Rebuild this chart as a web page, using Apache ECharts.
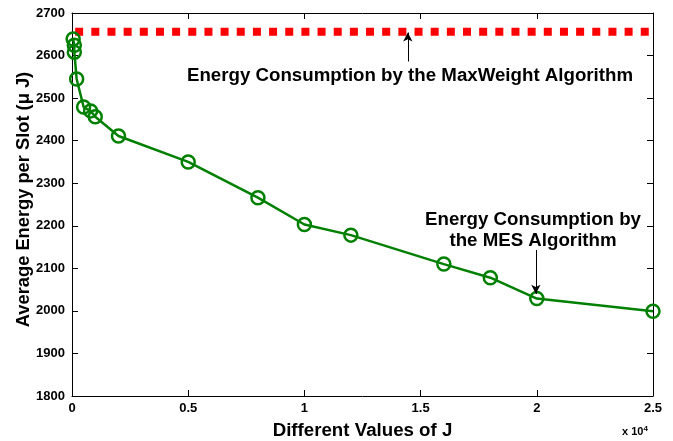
<!DOCTYPE html>
<html><head><meta charset="utf-8">
<script src="https://cdn.jsdelivr.net/npm/echarts@6/dist/echarts.min.js"></script>
<style>html,body{margin:0;padding:0;background:#fff}#c{width:673px;height:441px}</style>
</head><body><div id="c"></div>
<script>
const jValues = [50, 100, 100, 200, 500, 800, 1000, 2000, 5000, 8000, 10000, 12000, 16000, 18000, 20000, 25000];
const mesEnergy = [2639, 2624, 2608, 2545, 2479, 2470, 2456, 2411, 2350, 2266, 2203, 2178, 2110, 2078, 2029, 1999];
const maxWeightEnergy = 2656;
const maxWeightRange = [0, 25000];
const xTicks = ['0', '0.5', '1', '1.5', '2', '2.5'];
const arrow1 = [[14450, 2586], [14450, 2654]];
const arrow2 = [[19960, 2143], [19960, 2040]];

const F = 'Liberation Sans, Arial, Helvetica, sans-serif';
const chart = echarts.init(document.getElementById('c'), null, {renderer: 'canvas'});
const axisCommon = {
  axisLine: {show: true, onZero: false, lineStyle: {color: '#000', width: 1}},
  axisTick: {show: true, inside: true, length: 6, lineStyle: {color: '#000'}},
  splitLine: {show: false}
};
chart.setOption({
  animation: false,
  grid: {left: 72, right: 20, top: 13, bottom: 45, containLabel: false, outerBoundsMode: 'none'},
  xAxis: [
    Object.assign({type: 'value', min: 0, max: 25000, interval: 5000,
      axisLabel: {color: '#000', fontFamily: F, fontWeight: 'bold', fontSize: 13, margin: 6,
        formatter: v => xTicks[Math.round(v / 5000)]},
      name: 'Different Values of J', nameLocation: 'middle', nameGap: 25,
      nameTextStyle: {color: '#000', fontFamily: F, fontWeight: 'bold', fontSize: 18.7}}, axisCommon),
    Object.assign({type: 'value', position: 'top', min: 0, max: 25000, interval: 5000,
      axisLabel: {show: false}}, axisCommon)
  ],
  yAxis: [
    Object.assign({type: 'value', min: 1800, max: 2700, interval: 100,
      axisLabel: {color: '#000', fontFamily: F, fontWeight: 'bold', fontSize: 13, margin: 7,
        formatter: v => String(v)},
      name: 'Average Energy per Slot (\u03bc J)', nameLocation: 'middle', nameGap: 39, nameMoveOverlap: false,
      nameTextStyle: {color: '#000', fontFamily: F, fontWeight: 'bold', fontSize: 18.3, padding: [0, 0, 0, 10]}}, axisCommon),
    Object.assign({type: 'value', position: 'right', min: 1800, max: 2700, interval: 100,
      axisLabel: {show: false}}, axisCommon)
  ],
  series: [
    {
      type: 'line',
      data: maxWeightRange.map(x => [x, maxWeightEnergy]),
      symbol: 'none',
      lineStyle: {color: '#ff0000', width: 8, type: [8, 8.16], dashOffset: 13, cap: 'butt'},
      z: 2,
      markLine: {
        silent: true, symbol: ['none', 'arrow'], symbolSize: [7, 9],
        lineStyle: {color: '#000', width: 1, type: 'solid'},
        label: {show: false},
        data: [
          [{coord: arrow1[0]}, {coord: arrow1[1]}],
          [{coord: arrow2[0]}, {coord: arrow2[1]}]
        ]
      }
    },
    {
      type: 'line',
      data: jValues.map((x, i) => [x, mesEnergy[i]]),
      symbol: 'circle', symbolSize: 13,
      lineStyle: {color: '#008000', width: 2.5},
      itemStyle: {color: 'rgba(0,0,0,0)', borderColor: '#008000', borderWidth: 2.5},
      z: 3
    }
  ],
  graphic: [
    {type: 'text', x: 410, y: 76, style: {text: 'Energy Consumption by the MaxWeight Algorithm', align: 'center', verticalAlign: 'middle',
      font: 'bold 18.7px ' + F, fill: '#000'}},
    {type: 'text', x: 533, y: 230, style: {text: 'Energy Consumption by\nthe MES Algorithm', align: 'center', verticalAlign: 'middle',
      font: 'bold 18.7px ' + F, fill: '#000', lineHeight: 21}},
    {type: 'text', x: 622, y: 425, style: {rich: {a: {font: 'bold 11px ' + F, fill: '#000'}, b: {font: 'bold 8px ' + F, fill: '#000', verticalAlign: 'top', padding: [0,0,6,0]}},
      text: '{a|x 10}{b|4}'}}
  ]
});
</script></body></html>
